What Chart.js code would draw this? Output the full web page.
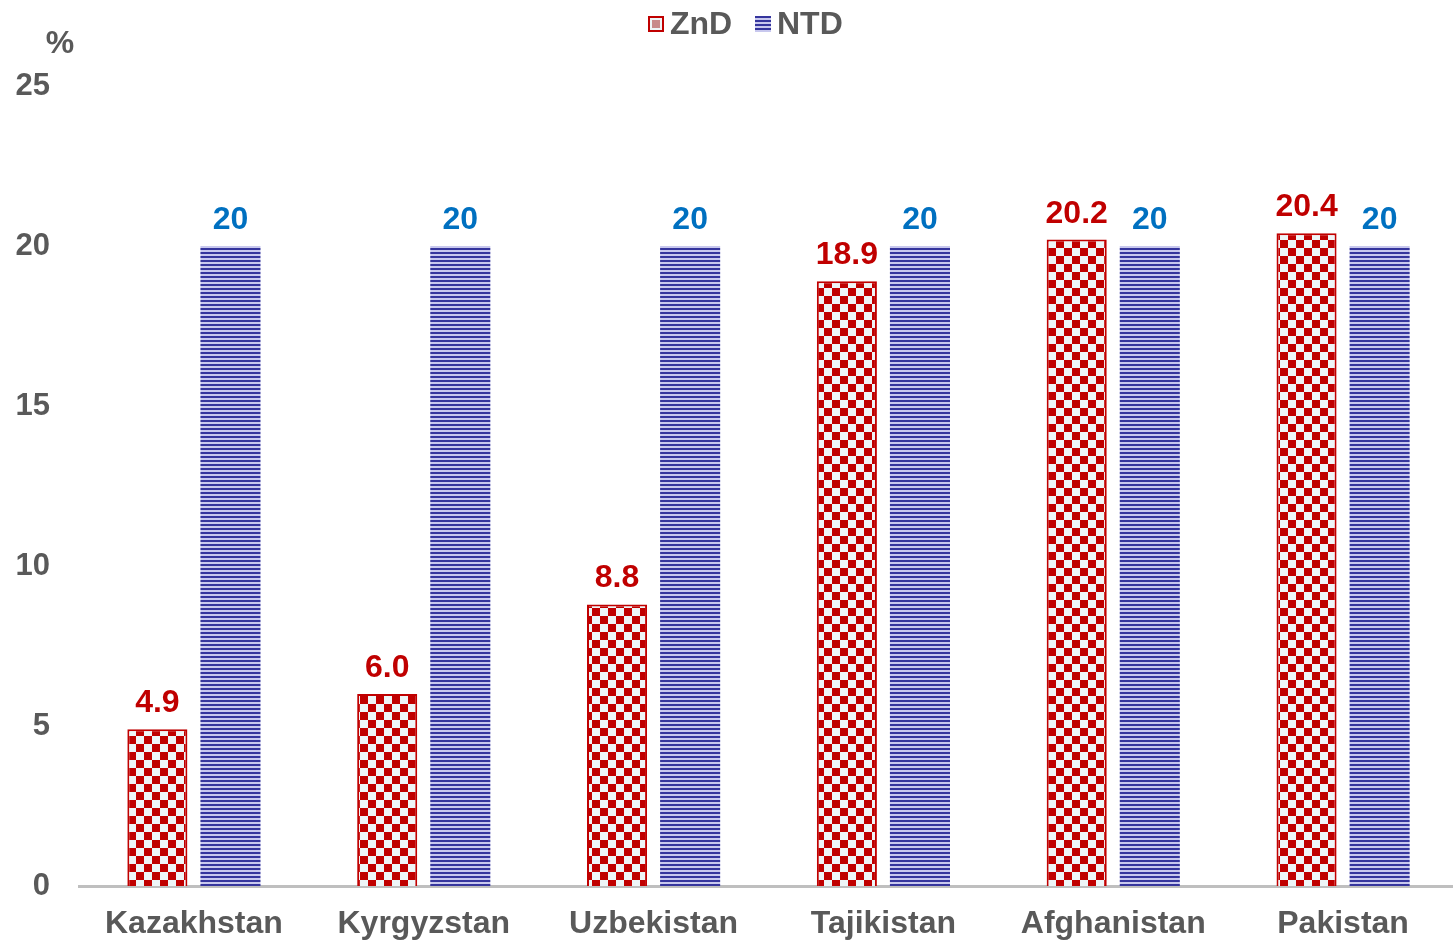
<!DOCTYPE html>
<html><head><meta charset="utf-8">
<script src="https://cdn.jsdelivr.net/npm/chart.js@4.4.0/dist/chart.umd.min.js"></script>
<style>html,body{margin:0;padding:0;background:#fff;overflow:hidden}#wrap{width:1453px;height:941px;overflow:hidden}</style>
</head><body><div id="wrap"><canvas id="c" width="1458" height="941"></canvas></div>
<script>
const categories = ["Kazakhstan","Kyrgyzstan","Uzbekistan","Tajikistan","Afghanistan","Pakistan"];
const zndValues = [4.9, 6.0, 8.8, 18.9, 20.2, 20.4];
const ntdValues = [20, 20, 20, 20, 20, 20];
const zndLabels = ["4.9","6.0","8.8","18.9","20.2","20.4"];
const ntdLabels = ["20","20","20","20","20","20"];
const yTicks = [0,5,10,15,20,25];

function checker(){
  const c=document.createElement('canvas');c.width=16;c.height=16;const x=c.getContext('2d');
  x.fillStyle='#eef5f7';x.fillRect(0,0,16,16);
  x.fillStyle='#c00000';x.fillRect(0,0,8,8);x.fillRect(8,8,8,8);
  return x.createPattern(c,'repeat');
}
function stripes(){
  const c=document.createElement('canvas');c.width=4;c.height=4;const x=c.getContext('2d');
  x.fillStyle='#c8c8ee';x.fillRect(0,0,4,4);
  x.fillStyle='#35359d';x.fillRect(0,0,4,2);
  return x.createPattern(c,'repeat');
}
const FONT='"Liberation Sans", Arial, sans-serif';
const GREY='#595959';

const labelPlugin={id:'vals',afterDatasetsDraw(chart){
  const ctx=chart.ctx;ctx.save();
  ctx.font='bold 32px '+FONT;ctx.textAlign='center';ctx.textBaseline='alphabetic';
  const cfg=[[zndLabels,'#c00000'],[ntdLabels,'#0070c0']];
  chart.data.datasets.forEach((ds,i)=>{
    chart.getDatasetMeta(i).data.forEach((bar,j)=>{
      ctx.fillStyle=cfg[i][1];
      ctx.fillText(cfg[i][0][j],bar.x,bar.y-17);
    });
  });
  ctx.fillStyle=GREY;ctx.textAlign='center';ctx.textBaseline='middle';
  ctx.fillText('%',60,44);
  ctx.textAlign='left';
  const items=[{x:648,ds:0},{x:755,ds:1}];
  items.forEach(it=>{
    const ds=chart.data.datasets[it.ds];
    const bx=it.x, by=16, s=16;
    if(it.ds===0){
      ctx.fillStyle='#c00000';ctx.fillRect(bx,by,s,s);
      ctx.fillStyle='#eef5f7';ctx.fillRect(bx+2,by+2,s-4,s-4);
      ctx.fillStyle='#c88a8a';ctx.fillRect(bx+4,by+4,s-8,s-8);
    } else {
      ctx.fillStyle=ds.backgroundColor;ctx.fillRect(bx,by,s,s);
    }
    ctx.fillStyle=GREY;
    ctx.fillText(ds.label,bx+s+6,by+s/2+1);
  });
  ctx.restore();
}};

new Chart(document.getElementById('c'),{
  type:'bar',
  data:{labels:categories,datasets:[
    {label:'ZnD',data:zndValues,backgroundColor:checker(),borderColor:'#c00000',borderWidth:2,categoryPercentage:0.636,barPercentage:0.822},
    {label:'NTD',data:ntdValues,backgroundColor:stripes(),borderColor:'#35359d',borderWidth:0,categoryPercentage:0.636,barPercentage:0.822}
  ]},
  options:{responsive:false,animation:false,
    layout:{padding:{top:86,right:0,left:0,bottom:0}},
    plugins:{tooltip:{enabled:false},legend:{display:false}},
    scales:{
      x:{grid:{display:false,drawTicks:false},border:{display:true,color:'#bfbfbf',width:3},
        ticks:{font:{family:FONT,size:32,weight:'bold'},color:GREY,padding:19,maxRotation:0},
        afterFit(s){s.height=55;}},
      y:{min:0,max:25,grid:{display:false,drawTicks:false},border:{display:false},
        afterBuildTicks(s){s.ticks=yTicks.map(v=>({value:v}));},
        ticks:{font:{family:FONT,size:31,weight:'bold'},color:GREY,padding:29},
        afterFit(s){s.width=79;}}
    }
  },
  plugins:[labelPlugin]
});
</script></body></html>
